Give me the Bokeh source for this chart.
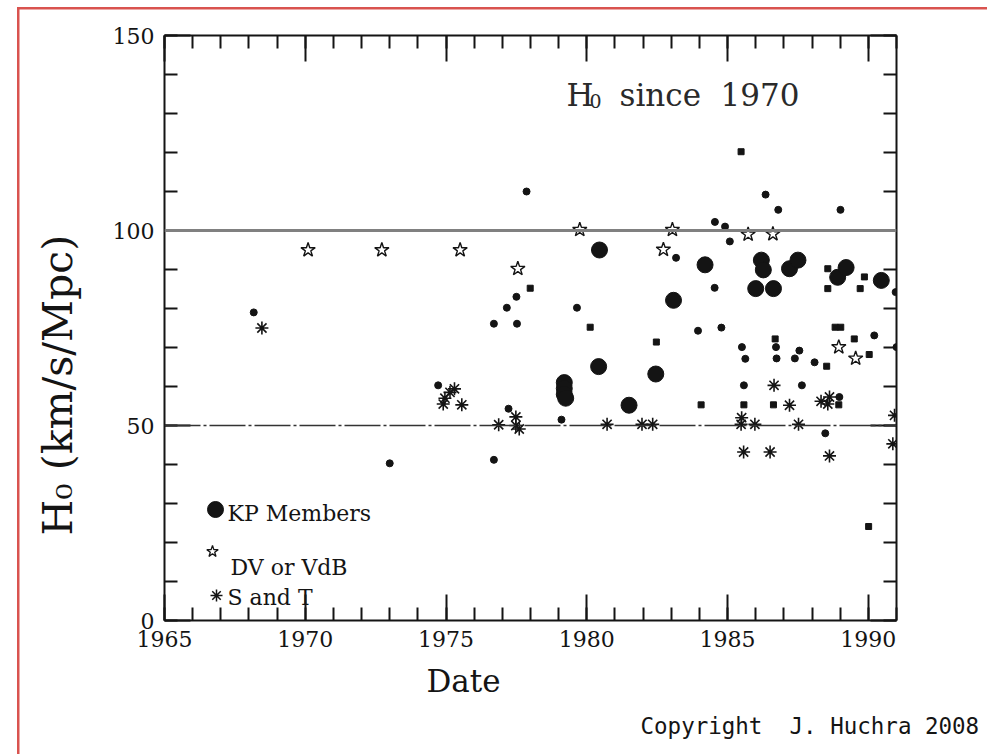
import math
from bokeh.plotting import figure
from bokeh.models import (Range1d, FixedTicker, LinearAxis, Span, Label, Title,
                          CustomJSTickFormatter)
from bokeh.embed import file_html
from bokeh.resources import INLINE

# ---------------- data ----------------
kp_x = [1979.2, 1979.2, 1979.2, 1979.25, 1980.45, 1980.42, 1981.5, 1982.45, 1983.08,
        1984.2, 1986.0, 1986.2, 1986.27, 1986.63, 1987.2, 1987.5, 1988.91, 1989.21, 1990.46]
kp_y = [61.0, 59.5, 58.0, 57.0, 95.0, 65.1, 55.2, 63.2, 82.1,
        91.2, 85.1, 92.4, 89.9, 85.1, 90.2, 92.4, 88.0, 90.5, 87.2]

dv_x = [1970.1, 1972.72, 1975.5, 1977.55, 1979.75, 1982.72, 1983.04, 1985.73, 1986.61, 1988.95, 1989.55]
dv_y = [95.0, 95.0, 95.0, 90.2, 100.2, 95.1, 100.2, 99.0, 99.1, 70.1, 67.2]

st_x = [1968.46, 1974.9, 1974.96, 1975.14, 1975.3, 1975.56, 1976.87, 1977.48, 1977.48, 1977.6,
        1980.72, 1981.96, 1982.34, 1985.5, 1985.48, 1985.97, 1985.57, 1986.51, 1986.65, 1987.2,
        1987.52, 1988.32, 1988.62, 1988.56, 1988.62, 1990.93, 1990.87]
st_y = [75.0, 55.5, 57.0, 58.5, 59.4, 55.3, 50.2, 52.2, 50.0, 49.1,
        50.3, 50.3, 50.3, 52.0, 50.3, 50.3, 43.2, 43.2, 60.3, 55.2,
        50.3, 56.2, 57.3, 55.5, 42.2, 52.6, 45.3]

dot_x = [1968.17, 1973.0, 1974.72, 1976.7, 1976.7, 1977.16, 1977.22, 1977.52, 1977.5, 1977.86,
         1979.1, 1979.65, 1983.17, 1983.95, 1984.55, 1984.54, 1984.78, 1984.91, 1985.08, 1985.51,
         1985.63, 1985.58, 1986.35, 1986.8, 1986.72, 1986.74, 1987.39, 1987.55, 1987.64, 1988.09,
         1988.47, 1988.97, 1989.01, 1990.21, 1990.97, 1991.0]
dot_y = [79.0, 40.3, 60.3, 76.1, 41.2, 80.2, 54.3, 76.1, 83.0, 110.0,
         51.5, 80.2, 93.0, 74.3, 102.2, 85.3, 75.1, 101.0, 97.2, 70.1,
         67.1, 60.3, 109.2, 105.3, 70.1, 67.2, 67.2, 69.2, 60.3, 66.2,
         48.0, 57.3, 105.3, 73.1, 84.2, 70.1]

sq_x = [1977.99, 1980.12, 1982.47, 1984.06, 1985.48, 1985.58, 1986.69, 1986.63, 1988.52, 1988.56,
        1988.56, 1988.82, 1989.02, 1988.95, 1989.5, 1989.86, 1989.71, 1990.03, 1990.01]
sq_y = [85.2, 75.2, 71.4, 55.3, 120.2, 55.3, 72.2, 55.3, 65.2, 90.2,
        85.1, 75.2, 75.2, 55.3, 72.2, 88.1, 85.1, 68.2, 24.1]

ref_levels = [100, 50]
x_major = [1965, 1970, 1975, 1980, 1985, 1990]
x_minor = list(range(1965, 1992))
y_major = [0, 50, 100, 150]
y_minor = list(range(0, 151, 10))
legend_names = ["KP Members", "DV or VdB", "S and T"]
x_title = "Date"
y_title = "H\u2080 (km/s/Mpc)"
credit = "Copyright\u00a0 J. Huchra 2008"

# ---------------- layout helpers ----------------
W, H = 987, 754
FL, FR, FT, FB = 164, 896, 35, 620
X0, X1, Y0, Y1 = 1965, 1991, 0, 150


def dx(px):
    return X0 + (px - FL) * (X1 - X0) / (FR - FL)


def dy(py):
    return Y0 + (FB - py) * (Y1 - Y0) / (FB - FT)


INK = "#141414"
SERIF = "DejaVu Serif"
RED = "#d9534f"
page_bg = ("linear-gradient(%s,%s) 17px 7px / 2.5px 100%% no-repeat, "
           "linear-gradient(%s,%s) 17px 7px / 100%% 2.5px no-repeat, #ffffff") % (RED, RED, RED, RED)

p = figure(width=W, height=H, x_range=Range1d(X0, X1), y_range=Range1d(Y0, Y1),
           output_backend="svg", toolbar_location=None,
           min_border_left=FL, min_border_right=W - FR, min_border_top=FT, min_border_bottom=H - FB,
           styles={"background": page_bg})
p.xgrid.visible = False
p.ygrid.visible = False
p.outline_line_color = None
p.background_fill_color = "white"
p.border_fill_color = None


def style_axis(ax, major, minor, labels=True):
    ax.ticker = FixedTicker(ticks=major, minor_ticks=minor)
    ax.axis_line_color = INK
    ax.axis_line_width = 2
    ax.major_tick_line_color = INK
    ax.major_tick_line_width = 2
    ax.minor_tick_line_color = INK
    ax.minor_tick_line_width = 2
    ax.major_tick_in = 26
    ax.major_tick_out = 0
    ax.minor_tick_in = 13
    ax.minor_tick_out = 0
    if labels:
        ax.major_label_text_font = SERIF
        ax.major_label_text_font_size = "22px"
        ax.major_label_text_color = INK
        ax.major_label_standoff = 10
    else:
        ax.formatter = CustomJSTickFormatter(code="return ''")
        ax.major_label_text_font_size = "1px"
        ax.major_label_standoff = 0


style_axis(p.xaxis[0], x_major, x_minor)
style_axis(p.yaxis[0], y_major, y_minor)
top = LinearAxis()
right = LinearAxis()
style_axis(top, x_major, x_minor, labels=False)
style_axis(right, y_major, y_minor, labels=False)
p.add_layout(top, "above")
p.add_layout(right, "right")

# reference lines
p.add_layout(Span(location=ref_levels[0], dimension="width", line_color="#808080", line_width=3))
p.add_layout(Span(location=ref_levels[1], dimension="width", line_color="#333333", line_width=1.5,
                  line_dash="36 3 3 3"))

# data marks
p.scatter(dot_x, dot_y, marker="circle", size=7, fill_color=INK, line_color=INK)
p.scatter(sq_x, sq_y, marker="square", size=6, fill_color=INK, line_color=INK)
p.scatter(kp_x, kp_y, marker="circle", size=16, fill_color=INK, line_color=INK)
p.scatter(dv_x, dv_y, marker="star", size=15, fill_color=None, line_color=INK, line_width=1.4)
p.scatter(st_x, st_y, marker="asterisk", size=13, line_color=INK, line_width=1.6)

# legend (drawn as in the original, inside the frame)
p.scatter([dx(215)], [dy(509)], marker="circle", size=16, fill_color=INK, line_color=INK)
p.scatter([dx(212)], [dy(551)], marker="star", size=12, fill_color=None, line_color=INK, line_width=1.3)
p.scatter([dx(216)], [dy(595)], marker="asterisk", size=12, line_color=INK, line_width=1.5)
for name, px, py in zip(legend_names, [227, 230, 227], [513, 567, 597]):
    p.add_layout(Label(x=dx(px), y=dy(py), text=name, text_font=SERIF, text_font_size="22px",
                       text_color=INK, text_baseline="alphabetic", text_align="left"))

# title inside the frame: H_0 since 1970
p.add_layout(Label(x=dx(566), y=dy(94), text="H", text_font=SERIF, text_font_size="31px",
                   text_color="#2a2a2a", text_baseline="alphabetic"))
p.add_layout(Label(x=dx(589), y=dy(100), text="0", text_font=SERIF, text_font_size="19px",
                   text_color="#2a2a2a", text_baseline="alphabetic"))
p.add_layout(Label(x=dx(619), y=dy(94), text="since", text_font=SERIF, text_font_size="31px",
                   text_color="#2a2a2a", text_baseline="alphabetic"))
p.add_layout(Label(x=dx(720), y=dy(94), text="1970", text_font=SERIF, text_font_size="31px",
                   text_color="#2a2a2a", text_baseline="alphabetic"))

# axis titles and credit, placed in the border panels
p.add_layout(Title(text=x_title, align="left", offset=426 - FL, standoff=22,
                   text_font=SERIF, text_font_size="31px", text_font_style="normal",
                   text_color=INK), "below")
p.add_layout(Title(text=credit, align="left", offset=640 - FL, standoff=2,
                   text_font="DejaVu Sans Mono", text_font_size="22.5px", text_font_style="normal",
                   text_color=INK), "below")
p.add_layout(Title(text=y_title, align="left", offset=FB - 535, standoff=56,
                   text_font=SERIF, text_font_size="41px", text_font_style="normal",
                   text_color=INK), "left")

open("out.html", "w").write(file_html(p, INLINE))
